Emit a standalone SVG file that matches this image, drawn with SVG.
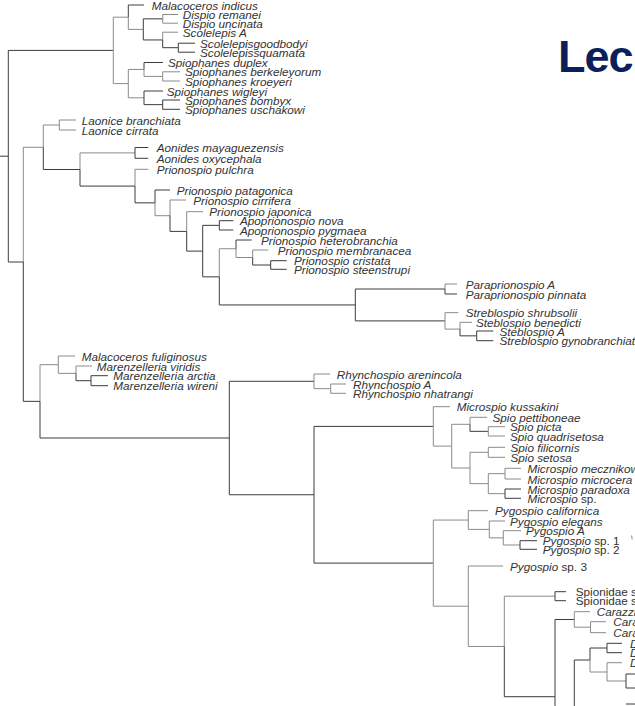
<svg xmlns="http://www.w3.org/2000/svg" width="635" height="706" viewBox="0 0 635 706">
<style>
  .d{fill:none;stroke:#3c3c3c;stroke-width:1}
  .g{fill:none;stroke:#8a8a8a;stroke-width:1}
  .tip text{font-family:"Liberation Sans",Arial,sans-serif;font-size:10.2px;font-style:italic;fill:#333}
  .tip tspan.up{font-style:normal}
  .tip text.up{font-style:normal}
  .title{font-family:"Liberation Sans",Arial,sans-serif;font-weight:bold;font-size:45px;fill:#0b1f5c}
</style>
<rect width="635" height="706" fill="#fff"/>

<!-- slide title, clipped by the right edge -->
<text class="title" x="558" y="71.5" letter-spacing="-1">Lec</text>

<g id="connectors">
  <!-- root and backbone -->
  <path class="d" d="M0 156.2H8.3"/>
  <path class="d" d="M8.3 156.2V50.4H113.3"/>
  <path class="d" d="M8.3 156.2V262H23.3"/>
  <!-- Malacoceros / Dispio / Scolelepis -->
  <path class="g" d="M113.3 50.4V17.2H128.3"/>
  <path class="d" d="M128.3 17.2V5H144"/>
  <path class="g" d="M128.3 17.2V29.4H143.3"/>
  <path class="d" d="M143.3 29.4V18.85H162.7"/>
  <path class="g" d="M162.7 18.85V14.5H178"/>
  <path class="g" d="M162.7 18.85V23.2H178"/>
  <path class="d" d="M143.3 29.4V39.95H162.7"/>
  <path class="g" d="M162.7 39.95V32.2H178"/>
  <path class="d" d="M162.7 39.95V47.7H178.3"/>
  <path class="d" d="M178.3 47.7V43.2H195"/>
  <path class="d" d="M178.3 47.7V52.2H195"/>
  <!-- Spiophanes -->
  <path class="g" d="M113.3 50.4V83.6H128.3"/>
  <path class="g" d="M128.3 83.6V69.45H144"/>
  <path class="d" d="M144 69.45V62.5H163"/>
  <path class="g" d="M144 69.45V76.4H162.7"/>
  <path class="g" d="M162.7 76.4V71.8H180"/>
  <path class="g" d="M162.7 76.4V81H180"/>
  <path class="g" d="M128.3 83.6V97.8H144"/>
  <path class="d" d="M144 97.8V91H163"/>
  <path class="d" d="M144 97.8V104.65H162.7"/>
  <path class="d" d="M162.7 104.65V100H180"/>
  <path class="d" d="M162.7 104.65V109.3H180"/>
  <!-- Laonice / Aonides / Prionospio -->
  <path class="g" d="M23.3 262V147.25H43.3"/>
  <path class="g" d="M43.3 147.25V125H59.3"/>
  <path class="g" d="M59.3 125V120H76"/>
  <path class="g" d="M59.3 125V130H76"/>
  <path class="d" d="M43.3 147.25V169.5H80"/>
  <path class="g" d="M80 169.5V152.9H135"/>
  <path class="d" d="M135 152.9V147.5H148.3"/>
  <path class="d" d="M135 152.9V158.3H148.3"/>
  <path class="d" d="M80 169.5V186.1H135"/>
  <path class="g" d="M135 186.1V169.3H148.3"/>
  <path class="d" d="M135 186.1V202.85H155"/>
  <path class="d" d="M155 202.85V190H170"/>
  <path class="g" d="M155 202.85V215.7H170"/>
  <path class="g" d="M170 215.7V200H186"/>
  <path class="d" d="M170 215.7V231.4H186.7"/>
  <path class="g" d="M186.7 231.4V211.7H203"/>
  <path class="d" d="M186.7 231.4V251.1H202.7"/>
  <path class="d" d="M202.7 251.1V225.35H219.3"/>
  <path class="d" d="M219.3 225.35V220.7H233.3"/>
  <path class="d" d="M219.3 225.35V230H233.3"/>
  <path class="d" d="M202.7 251.1V276.85H219.3"/>
  <path class="g" d="M219.3 276.85V248.75H236"/>
  <path class="d" d="M236 248.75V240H251.7"/>
  <path class="g" d="M236 248.75V257.5H252.7"/>
  <path class="g" d="M252.7 257.5V250H268.3"/>
  <path class="d" d="M252.7 257.5V265H270.7"/>
  <path class="d" d="M270.7 265V260.7H286.7"/>
  <path class="d" d="M270.7 265V269.3H286.7"/>
  <!-- Paraprionospio / Streblospio -->
  <path class="d" d="M219.3 276.85V304.95H355.3"/>
  <path class="d" d="M355.3 304.95V289H445"/>
  <path class="g" d="M445 289V284H457"/>
  <path class="d" d="M445 289V294H457"/>
  <path class="d" d="M355.3 304.95V320.9H445"/>
  <path class="g" d="M445 320.9V312.7H458.3"/>
  <path class="g" d="M445 320.9V329.1H460"/>
  <path class="g" d="M460 329.1V322.3H472"/>
  <path class="d" d="M460 329.1V335.85H476.7"/>
  <path class="d" d="M476.7 335.85V331H493.3"/>
  <path class="d" d="M476.7 335.85V340.7H493.3"/>
  <!-- Malacoceros fuliginosus / Marenzelleria -->
  <path class="d" d="M23.3 262V401.35H40"/>
  <path class="g" d="M40 401.35V364.7H58.3"/>
  <path class="g" d="M58.3 364.7V356H75"/>
  <path class="g" d="M58.3 364.7V373.35H76"/>
  <path class="g" d="M76 373.35V366H92"/>
  <path class="d" d="M76 373.35V380.7H91"/>
  <path class="d" d="M91 380.7V375.7H108"/>
  <path class="d" d="M91 380.7V385.7H108"/>
  <!-- Rhynchospio -->
  <path class="d" d="M40 401.35V438H229.3"/>
  <path class="d" d="M229.3 438V381.3H314"/>
  <path class="g" d="M314 381.3V374H330"/>
  <path class="g" d="M314 381.3V388.65H330.7"/>
  <path class="g" d="M330.7 388.65V384H346"/>
  <path class="g" d="M330.7 388.65V393.3H346"/>
  <!-- Microspio / Spio -->
  <path class="d" d="M229.3 438V494.75H314"/>
  <path class="d" d="M314 494.75V426.4H433.3"/>
  <path class="g" d="M433.3 426.4V406.7H450"/>
  <path class="g" d="M433.3 426.4V446.1H451.7"/>
  <path class="g" d="M451.7 446.1V424.3H470"/>
  <path class="g" d="M470 424.3V417.3H487"/>
  <path class="d" d="M470 424.3V431.35H488.3"/>
  <path class="g" d="M488.3 431.35V426.7H505"/>
  <path class="g" d="M488.3 431.35V436H505"/>
  <path class="g" d="M451.7 446.1V468H470"/>
  <path class="g" d="M470 468V452.3H488.3"/>
  <path class="g" d="M488.3 452.3V447.3H505"/>
  <path class="g" d="M488.3 452.3V457.3H505"/>
  <path class="g" d="M470 468V483.65H488.3"/>
  <path class="g" d="M488.3 483.65V473.65H505"/>
  <path class="g" d="M505 473.65V468.3H521"/>
  <path class="g" d="M505 473.65V479H521"/>
  <path class="g" d="M488.3 483.65V493.65H505"/>
  <path class="d" d="M505 493.65V489H521"/>
  <path class="d" d="M505 493.65V498.3H521"/>
  <!-- Pygospio -->
  <path class="d" d="M314 494.75V563.1H433.3"/>
  <path class="g" d="M433.3 563.1V520.05H468.3"/>
  <path class="g" d="M468.3 520.05V510.7H488"/>
  <path class="g" d="M468.3 520.05V529.4H489.3"/>
  <path class="g" d="M489.3 529.4V521H505"/>
  <path class="g" d="M489.3 529.4V537.85H503.3"/>
  <path class="g" d="M503.3 537.85V530.7H521"/>
  <path class="g" d="M503.3 537.85V545H520"/>
  <path class="d" d="M520 545V540.7H537"/>
  <path class="d" d="M520 545V549.3H537"/>
  <path class="g" d="M433.3 563.1V606.2H468.3"/>
  <path class="g" d="M468.3 606.2V566H503"/>
  <!-- Spionidae / Carazziella and the clade running off the page -->
  <path class="g" d="M468.3 606.2V646.45H504.3"/>
  <path class="g" d="M504.3 646.45V596.2H555"/>
  <path class="d" d="M555 596.2V591.7H566"/>
  <path class="d" d="M555 596.2V600.7H566"/>
  <path class="d" d="M504.3 646.45V696.7H555"/>
  <path class="d" d="M555 696.7V619.5H574.3"/>
  <path class="d" d="M555 696.7V712"/>
  <path class="g" d="M574.3 619.5V611.7H590"/>
  <path class="g" d="M574.3 619.5V627.2H590.5"/>
  <path class="g" d="M590.5 627.2V621.7H606"/>
  <path class="g" d="M590.5 627.2V632.7H606"/>
  <path class="d" d="M574.3 712V660H590"/>
  <path class="d" d="M590 660V648H607"/>
  <path class="d" d="M607 648V643.3H622"/>
  <path class="d" d="M607 648V652.7H622"/>
  <path class="g" d="M590 660V672H607"/>
  <path class="g" d="M607 672V662.7H622"/>
  <path class="g" d="M607 672V681H626"/>
  <path class="d" d="M626 681V674H640"/>
  <path class="d" d="M626 681V688H640"/>
  <path class="d" d="M626 704H640"/>
  <path class="g" d="M631.6 535.5L632.2 539.5"/>
</g>

<g class="tip" id="tips">
  <g id="malacoceros-indicus" transform="translate(151.7 9.5) scale(1.15 1)"><text>Malacoceros indicus</text></g>
  <g id="dispio-remanei" transform="translate(182.7 19) scale(1.15 1)"><text>Dispio remanei</text></g>
  <g id="dispio-uncinata" transform="translate(182.7 27.7) scale(1.15 1)"><text>Dispio uncinata</text></g>
  <g id="scolelepis-a" transform="translate(182.7 36.7) scale(1.15 1)"><text>Scolelepis A</text></g>
  <g id="scolelepis-goodbodyi" transform="translate(200 47.7) scale(1.15 1)"><text>Scolelepisgoodbodyi</text></g>
  <g id="scolelepis-squamata" transform="translate(200 56.7) scale(1.15 1)"><text>Scolelepissquamata</text></g>
  <g id="spiophanes-duplex" transform="translate(168 67) scale(1.15 1)"><text>Spiophanes duplex</text></g>
  <g id="spiophanes-berkeleyorum" transform="translate(185 76.3) scale(1.15 1)"><text>Spiophanes berkeleyorum</text></g>
  <g id="spiophanes-kroeyeri" transform="translate(185 85.5) scale(1.15 1)"><text>Spiophanes kroeyeri</text></g>
  <g id="spiophanes-wigleyi" transform="translate(166.7 95.5) scale(1.15 1)"><text>Spiophanes wigleyi</text></g>
  <g id="spiophanes-bombyx" transform="translate(185 104.5) scale(1.15 1)"><text>Spiophanes bombyx</text></g>
  <g id="spiophanes-uschakowi" transform="translate(185 113.8) scale(1.15 1)"><text>Spiophanes uschakowi</text></g>
  <g id="laonice-branchiata" transform="translate(81.7 124.5) scale(1.15 1)"><text>Laonice branchiata</text></g>
  <g id="laonice-cirrata" transform="translate(81.7 134.5) scale(1.15 1)"><text>Laonice cirrata</text></g>
  <g id="aonides-mayaguezensis" transform="translate(156.7 152) scale(1.15 1)"><text>Aonides mayaguezensis</text></g>
  <g id="aonides-oxycephala" transform="translate(156.7 162.8) scale(1.15 1)"><text>Aonides oxycephala</text></g>
  <g id="prionospio-pulchra" transform="translate(156.7 173.8) scale(1.15 1)"><text>Prionospio pulchra</text></g>
  <g id="prionospio-patagonica" transform="translate(176.7 194.5) scale(1.15 1)"><text>Prionospio patagonica</text></g>
  <g id="prionospio-cirrifera" transform="translate(193.3 204.5) scale(1.15 1)"><text>Prionospio cirrifera</text></g>
  <g id="prionospio-japonica" transform="translate(209.3 216.2) scale(1.15 1)"><text>Prionospio japonica</text></g>
  <g id="apoprionospio-nova" transform="translate(240 225.2) scale(1.15 1)"><text>Apoprionospio nova</text></g>
  <g id="apoprionospio-pygmaea" transform="translate(240 234.5) scale(1.15 1)"><text>Apoprionospio pygmaea</text></g>
  <g id="prionospio-heterobranchia" transform="translate(261 244.5) scale(1.15 1)"><text>Prionospio heterobranchia</text></g>
  <g id="prionospio-membranacea" transform="translate(277.7 254.5) scale(1.15 1)"><text>Prionospio membranacea</text></g>
  <g id="prionospio-cristata" transform="translate(294 265.2) scale(1.15 1)"><text>Prionospio cristata</text></g>
  <g id="prionospio-steenstrupi" transform="translate(294 273.8) scale(1.15 1)"><text>Prionospio steenstrupi</text></g>
  <g id="paraprionospio-a" transform="translate(465.7 288.5) scale(1.15 1)"><text>Paraprionospio A</text></g>
  <g id="paraprionospio-pinnata" transform="translate(465.7 298.5) scale(1.15 1)"><text>Paraprionospio pinnata</text></g>
  <g id="streblospio-shrubsolii" transform="translate(465.7 317.2) scale(1.15 1)"><text>Streblospio shrubsolii</text></g>
  <g id="streblospio-benedicti" transform="translate(476 326.8) scale(1.15 1)"><text>Steblospio benedicti</text></g>
  <g id="streblospio-a" transform="translate(499.5 335.5) scale(1.15 1)"><text>Steblospio A</text></g>
  <g id="streblospio-gynobranchiata" transform="translate(499.5 345.2) scale(1.15 1)"><text>Streblospio gynobranchiat</text></g>
  <g id="malacoceros-fuliginosus" transform="translate(81.7 360.5) scale(1.15 1)"><text>Malacoceros fuliginosus</text></g>
  <g id="marenzelleria-viridis" transform="translate(96.7 370.5) scale(1.15 1)"><text>Marenzelleria viridis</text></g>
  <g id="marenzelleria-arctia" transform="translate(113.3 380.2) scale(1.15 1)"><text>Marenzelleria arctia</text></g>
  <g id="marenzelleria-wireni" transform="translate(113.3 390.2) scale(1.15 1)"><text>Marenzelleria wireni</text></g>
  <g id="rhynchospio-arenincola" transform="translate(336.7 378.5) scale(1.15 1)"><text>Rhynchospio arenincola</text></g>
  <g id="rhynchospio-a" transform="translate(353 388.5) scale(1.15 1)"><text>Rhynchospio A</text></g>
  <g id="rhynchospio-nhatrangi" transform="translate(353 397.8) scale(1.15 1)"><text>Rhynchospio nhatrangi</text></g>
  <g id="microspio-kussakini" transform="translate(456.7 411.2) scale(1.15 1)"><text>Microspio kussakini</text></g>
  <g id="spio-pettiboneae" transform="translate(492.5 421.8) scale(1.15 1)"><text>Spio pettiboneae</text></g>
  <g id="spio-picta" transform="translate(510 431.2) scale(1.15 1)"><text>Spio picta</text></g>
  <g id="spio-quadrisetosa" transform="translate(510 440.5) scale(1.15 1)"><text>Spio quadrisetosa</text></g>
  <g id="spio-filicornis" transform="translate(510.5 451.8) scale(1.15 1)"><text>Spio filicornis</text></g>
  <g id="spio-setosa" transform="translate(510.5 461.8) scale(1.15 1)"><text>Spio setosa</text></g>
  <g id="microspio-mecznikowi" transform="translate(527.5 472.8) scale(1.15 1)"><text>Microspio mecznikow</text></g>
  <g id="microspio-microcera" transform="translate(527.5 483.5) scale(1.15 1)"><text>Microspio microcera</text></g>
  <g id="microspio-paradoxa" transform="translate(527.5 493.5) scale(1.15 1)"><text>Microspio paradoxa</text></g>
  <g id="microspio-sp" transform="translate(527.5 502.8) scale(1.15 1)"><text>Microspio <tspan class="up">sp.</tspan></text></g>
  <g id="pygospio-californica" transform="translate(495 515.2) scale(1.15 1)"><text>Pygospio californica</text></g>
  <g id="pygospio-elegans" transform="translate(510 525.5) scale(1.15 1)"><text>Pygospio elegans</text></g>
  <g id="pygospio-a" transform="translate(526 535.2) scale(1.15 1)"><text>Pygospio A</text></g>
  <g id="pygospio-sp1" transform="translate(542.7 545.2) scale(1.15 1)"><text>Pygospio <tspan class="up">sp. 1</tspan></text></g>
  <g id="pygospio-sp2" transform="translate(542.7 553.8) scale(1.15 1)"><text>Pygospio <tspan class="up">sp. 2</tspan></text></g>
  <g id="pygospio-sp3" transform="translate(510 570.5) scale(1.15 1)"><text>Pygospio <tspan class="up">sp. 3</tspan></text></g>
  <g id="spionidae-1" transform="translate(575.7 596.2) scale(1.15 1)"><text class="up">Spionidae s</text></g>
  <g id="spionidae-2" transform="translate(575.7 605.2) scale(1.15 1)"><text class="up">Spionidae s</text></g>
  <g id="carazziella" transform="translate(596.7 616.2) scale(1.15 1)"><text>Carazzi</text></g>
  <g id="cara-1" transform="translate(613.3 626.2) scale(1.15 1)"><text>Cara</text></g>
  <g id="cara-2" transform="translate(613.3 637.2) scale(1.15 1)"><text>Cara</text></g>
  <g id="d-1" transform="translate(630 647.8) scale(1.15 1)"><text>D</text></g>
  <g id="d-2" transform="translate(630 657.2) scale(1.15 1)"><text>D</text></g>
  <g id="d-3" transform="translate(630 667.2) scale(1.15 1)"><text>D</text></g>
</g>
</svg>
